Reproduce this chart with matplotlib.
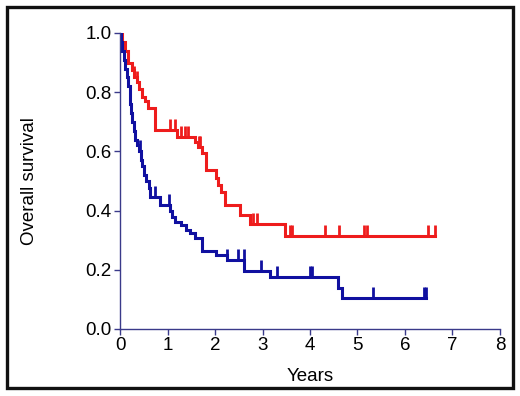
import matplotlib
matplotlib.use("Agg")
import matplotlib.pyplot as plt
from matplotlib.patches import Rectangle

plt.rcParams['font.family'] = ['Liberation Sans', 'DejaVu Sans']

# Red group (Kaplan-Meier step points: time, survival)
red_t = [0, 0.05, 0.10, 0.17, 0.25, 0.30, 0.35, 0.40, 0.46, 0.52, 0.59, 0.74,
         1.19, 1.58, 1.65, 1.72, 1.82, 2.03, 2.07, 2.13, 2.20, 2.53, 2.74, 3.47, 6.63]
red_s = [1.0, 0.97, 0.94, 0.90, 0.875, 0.85, 0.835, 0.81, 0.785, 0.77, 0.747, 0.672,
         0.65, 0.633, 0.616, 0.593, 0.537, 0.509, 0.486, 0.464, 0.419, 0.385, 0.354, 0.314, 0.314]
red_cens_t = [0.30, 0.36, 1.05, 1.16, 1.28, 1.37, 1.44, 1.66, 1.69, 2.79, 2.88,
              3.58, 3.62, 4.32, 4.62, 5.14, 5.19, 6.49, 6.63]

# Blue group
blue_t = [0, 0.02, 0.05, 0.08, 0.11, 0.14, 0.17, 0.20, 0.22, 0.24, 0.26, 0.29, 0.32,
          0.36, 0.40, 0.44, 0.47, 0.51, 0.55, 0.60, 0.64, 0.84, 1.06, 1.10, 1.16, 1.28,
          1.38, 1.48, 1.58, 1.72, 2.03, 2.25, 2.61, 3.16, 4.60, 4.67, 6.45]
blue_s = [1.0, 0.97, 0.94, 0.91, 0.88, 0.85, 0.82, 0.79, 0.76, 0.73, 0.70, 0.67, 0.64,
          0.62, 0.60, 0.57, 0.55, 0.52, 0.50, 0.475, 0.447, 0.419, 0.40, 0.38, 0.363, 0.351,
          0.334, 0.323, 0.306, 0.265, 0.25, 0.233, 0.197, 0.175, 0.14, 0.104, 0.104]
blue_cens_t = [0.42, 0.74, 1.04, 2.25, 2.49, 2.60, 2.96, 3.31, 4.00, 4.04, 5.32, 6.39, 6.45]

x_ticks = [0, 1, 2, 3, 4, 5, 6, 7, 8]
y_ticks = [0.0, 0.2, 0.4, 0.6, 0.8, 1.0]

RED = '#ee1c1c'
BLUE = '#1010a0'
AXC = '#3a3a8a'


def surv_at(ts, ss, t):
    v = ss[0]
    for ti, si in zip(ts, ss):
        if ti <= t:
            v = si
    return v


fig = plt.figure(figsize=(5.2, 3.96), dpi=100)
ax = fig.add_axes([0.2308, 0.1692, 0.7307, 0.7475])

for ts, ss, cens, col in [(red_t, red_s, red_cens_t, RED), (blue_t, blue_s, blue_cens_t, BLUE)]:
    ax.step(ts, ss, where='post', color=col, lw=2.2, solid_joinstyle='miter')
    for c in cens:
        s = surv_at(ts, ss, c)
        ax.plot([c, c], [s, s + 0.037], color=col, lw=2.0, solid_capstyle='butt')

ax.set_xlim(0, 8)
ax.set_ylim(0, 1.0)
ax.set_xticks(x_ticks)
ax.set_xticklabels([str(v) for v in x_ticks])
ax.set_yticks(y_ticks)
ax.set_yticklabels([f"{v:.1f}" for v in y_ticks])
for side in ['top', 'right']:
    ax.spines[side].set_visible(False)
for side in ['left', 'bottom']:
    ax.spines[side].set_color(AXC)
    ax.spines[side].set_linewidth(1.0)
ax.tick_params(axis='both', direction='out', length=4, width=1.0, color=AXC,
               labelsize=13.5, labelcolor='black', pad=2)
ax.set_xlabel('Years', fontsize=13.5)
ax.set_ylabel('Overall survival', fontsize=13.5)
ax.xaxis.set_label_coords(0.5, -0.159)
ax.yaxis.set_label_coords(-0.237, 0.5)
ax.xaxis.label.set_va('center')
ax.yaxis.label.set_va('center')

fig.patches.append(Rectangle((0.0135, 0.0202), 0.973, 0.962, transform=fig.transFigure,
                             fill=False, edgecolor='#111111', linewidth=2.4))

fig.savefig('out.png', dpi=100)
